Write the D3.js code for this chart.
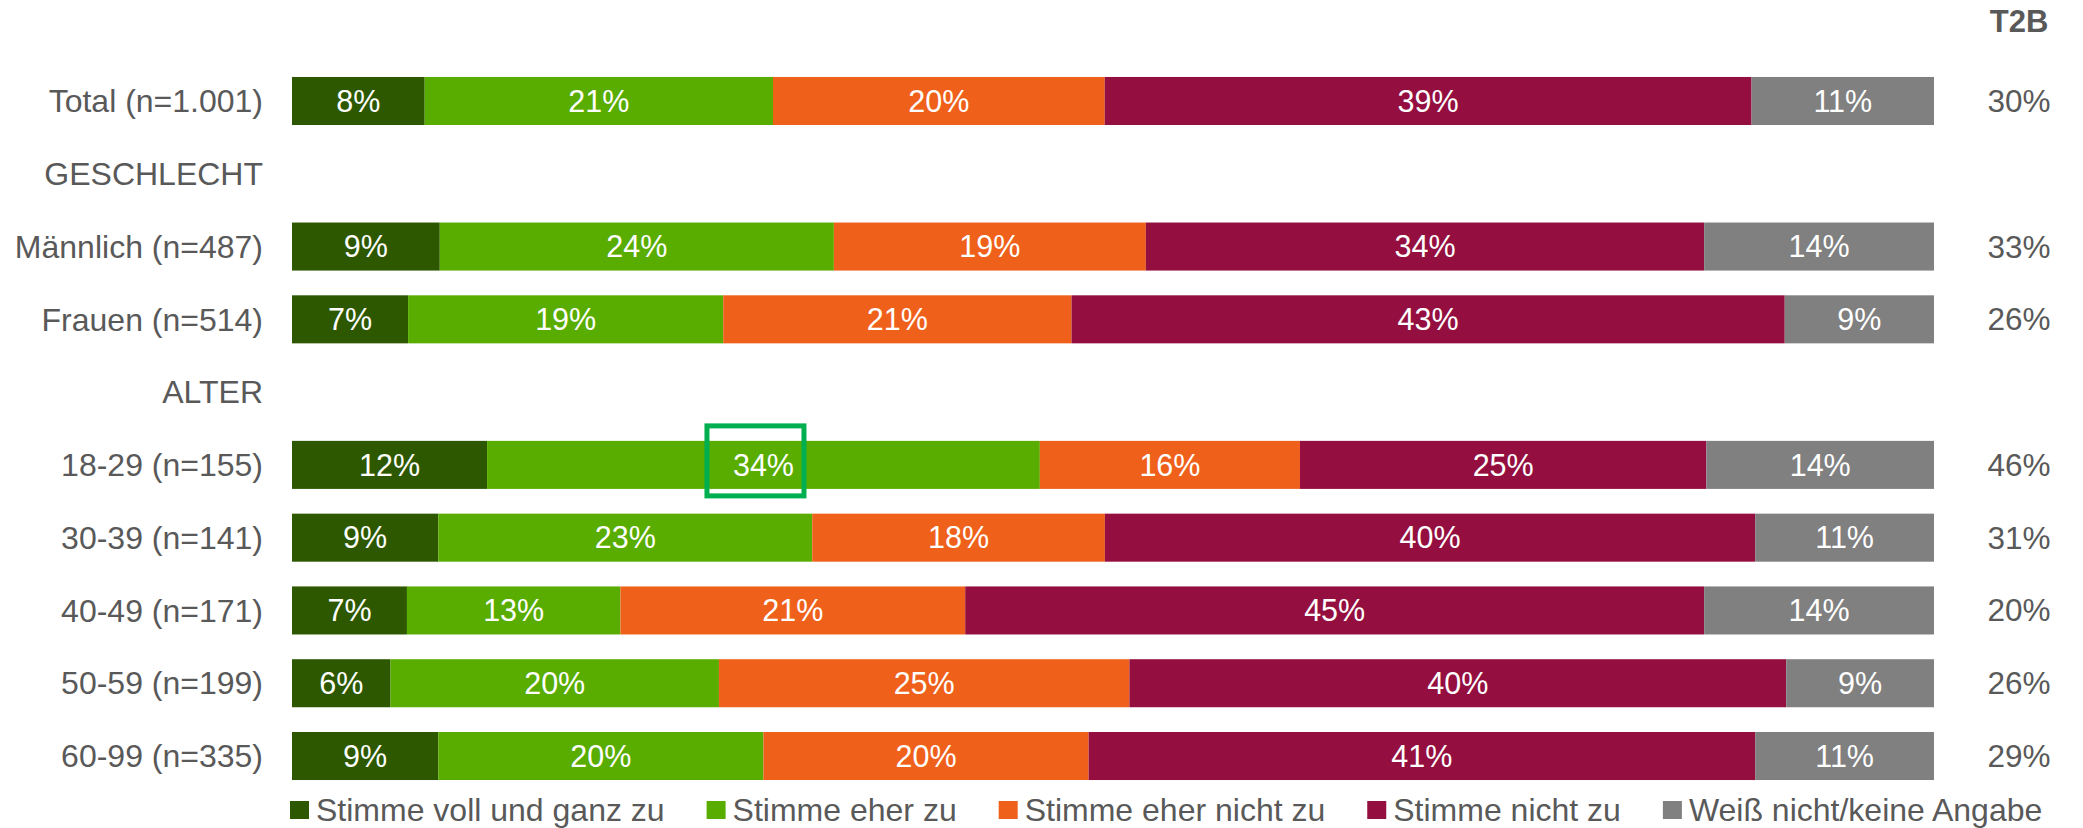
<!DOCTYPE html>
<html>
<head>
<meta charset="utf-8">
<script src="https://cdn.jsdelivr.net/npm/d3@7"></script>
<style>
    body { margin: 0; background: #fff; }
    text { font-family: "Liberation Sans", Arial, sans-serif; }
</style>
</head>
<body>
<div id="view"></div>
<script>
// rows (headers have no bar)
const rows = ["Total (n=1.001)", "GESCHLECHT", "Männlich (n=487)", "Frauen (n=514)", "ALTER",
    "18-29 (n=155)", "30-39 (n=141)", "40-49 (n=171)", "50-59 (n=199)", "60-99 (n=335)"];
const headers = ["GESCHLECHT", "ALTER"];
const groups = rows.filter(r => !headers.includes(r));

const series = ["Stimme voll und ganz zu", "Stimme eher zu", "Stimme eher nicht zu", "Stimme nicht zu", "Weiß nicht/keine Angabe"];
const colors = ["#2d5800", "#58ad00", "#ef601b", "#940f3f", "#808080"];

// values per series, in order of groups
const vollUndGanz = [8, 9, 7, 12, 9, 7, 6, 9];
const eherZu = [21, 24, 19, 34, 23, 13, 20, 20];
const eherNicht = [20, 19, 21, 16, 18, 21, 25, 20];
const nichtZu = [39, 34, 43, 25, 40, 45, 40, 41];
const weissNicht = [11, 14, 9, 14, 11, 14, 9, 11];
const t2b = [30, 33, 26, 46, 31, 20, 26, 29];

// highlighted cell (green frame)
const highlight = {row: "18-29 (n=155)", key: "Stimme eher zu"};

const allValues = [vollUndGanz, eherZu, eherNicht, nichtZu, weissNicht];
const table = groups.map((g, i) => {
    const d = {group: g, t2b: t2b[i]};
    series.forEach((s, j) => d[s] = allValues[j][i]);
    return d;
});

const width = 2083;
const height = 828;
const textColor = "#595959";

const svg = d3.select("#view")
    .append("svg")
        .attr("width", width)
        .attr("height", height);

const x = d3.scaleLinear().domain([0, 1]).range([292, 1934]);
const y = d3.scaleBand().domain(rows).range([64.6, 792.4]).paddingInner(0.34).paddingOuter(0.17);
const color = d3.scaleOrdinal().domain(series).range(colors);

const stacked = d3.stack().keys(series).offset(d3.stackOffsetExpand)(table);

// row labels
svg.append("g")
    .selectAll("text")
    .data(rows)
    .join("text")
        .attr("x", 263)
        .attr("y", d => y(d) + y.bandwidth() / 2)
        .attr("dy", "0.35em")
        .attr("text-anchor", "end")
        .attr("font-size", 32)
        .attr("fill", textColor)
        .text(d => d);

// bars
const layer = svg.append("g")
    .selectAll("g")
    .data(stacked)
    .join("g")
        .attr("fill", d => color(d.key));

layer.selectAll("rect")
    .data(d => d)
    .join("rect")
        .attr("x", d => x(d[0]))
        .attr("y", d => y(d.data.group))
        .attr("width", d => x(d[1]) - x(d[0]))
        .attr("height", y.bandwidth());

// value labels
svg.append("g")
    .selectAll("g")
    .data(stacked)
    .join("g")
    .each(function(s) {
        d3.select(this).selectAll("text")
            .data(s)
            .join("text")
                .attr("x", d => (x(d[0]) + x(d[1])) / 2)
                .attr("y", d => y(d.data.group) + y.bandwidth() / 2)
                .attr("dy", "0.35em")
                .attr("text-anchor", "middle")
                .attr("font-size", 30.5)
                .attr("fill", "#fff")
                .text(d => d.data[s.key] + "%");
    });

// highlight frame
const hs = stacked.find(s => s.key == highlight.key);
const hd = hs.find(d => d.data.group == highlight.row);
const hx = (x(hd[0]) + x(hd[1])) / 2 - 8;
const hy = y(highlight.row) + y.bandwidth() / 2 - 4;
svg.append("rect")
    .attr("x", hx - 48.5)
    .attr("y", hy - 35)
    .attr("width", 97)
    .attr("height", 70)
    .attr("fill", "none")
    .attr("stroke", "#00b050")
    .attr("stroke-width", 5);

// T2B column
svg.append("text")
    .attr("x", 2019)
    .attr("y", 21)
    .attr("dy", "0.35em")
    .attr("text-anchor", "middle")
    .attr("font-size", 31)
    .attr("font-weight", "bold")
    .attr("fill", textColor)
    .text("T2B");

svg.append("g")
    .selectAll("text")
    .data(table)
    .join("text")
        .attr("x", 2019)
        .attr("y", d => y(d.group) + y.bandwidth() / 2)
        .attr("dy", "0.35em")
        .attr("text-anchor", "middle")
        .attr("font-size", 31.5)
        .attr("fill", textColor)
        .text(d => d.t2b + "%");

// legend
const legend = svg.append("g").attr("transform", "translate(290, 810)");
let lx = 0;
series.forEach((s) => {
    const item = legend.append("g").attr("transform", `translate(${lx}, 0)`);
    item.append("rect")
        .attr("x", 0)
        .attr("y", -9)
        .attr("width", 19)
        .attr("height", 18)
        .attr("fill", color(s));
    const t = item.append("text")
        .attr("x", 26)
        .attr("y", 0)
        .attr("dy", "0.35em")
        .attr("font-size", 32)
        .attr("fill", textColor)
        .text(s);
    lx += 26 + t.node().getComputedTextLength() + 42;
});
</script>
</body>
</html>
